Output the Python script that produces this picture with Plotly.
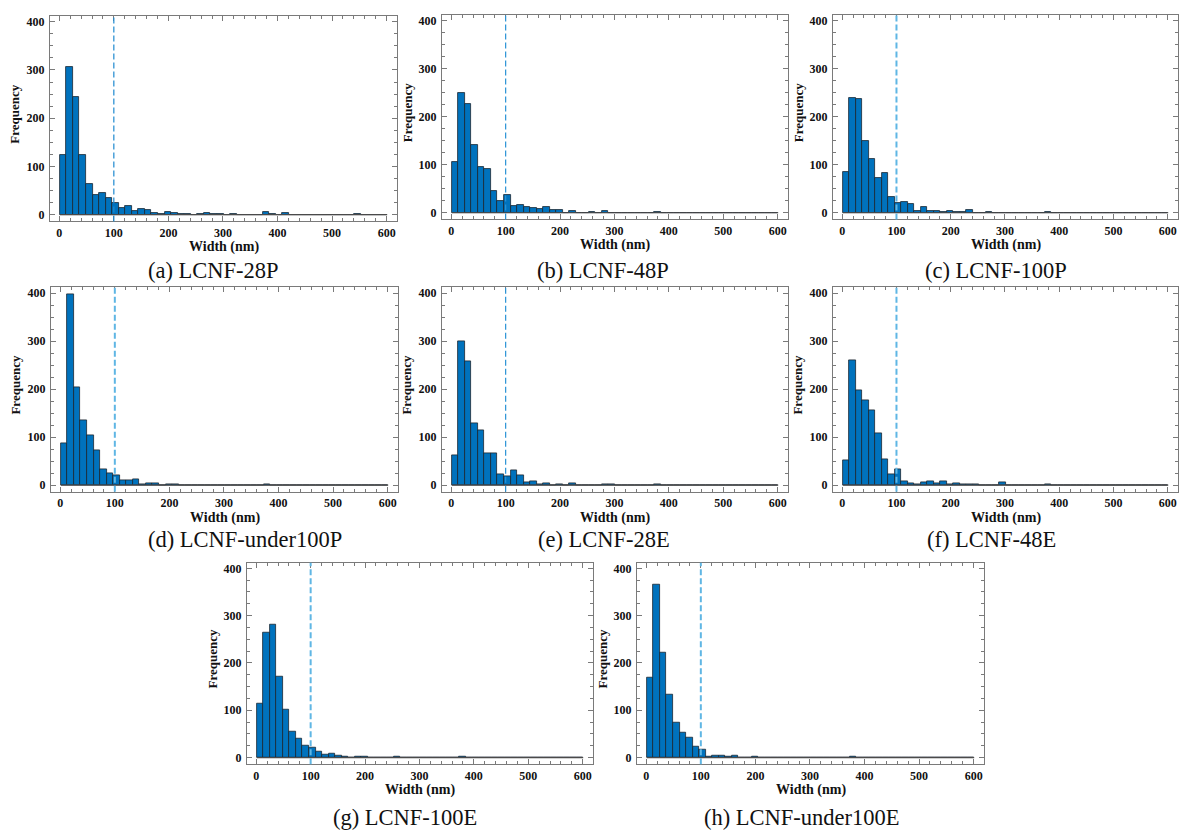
import plotly.graph_objects as go

# ---------------- data ----------------
bin_start = 1
bin_size = 12
n_bins = 50
bin_centers = [bin_start + bin_size / 2 + bin_size * k for k in range(n_bins)]

def pad(vals):
    return vals + [0] * (n_bins - len(vals))

counts_28P = pad([124, 306, 244, 124, 64, 41, 46, 35, 24, 13, 18, 8, 12, 9, 4, 1, 6, 3, 2, 2,
                  0, 1, 4, 2, 1, 0, 1, 0, 0, 0, 0, 6, 1, 0, 3, 0, 0, 0, 0, 0,
                  0, 0, 0, 0, 0, 1])
counts_48P = pad([105, 249, 227, 141, 96, 91, 46, 24, 37, 15, 17, 12, 11, 7, 13, 5, 6, 0, 4, 0,
                  0, 2, 0, 3, 0, 0, 0, 0, 0, 0, 0, 2])
counts_100P = pad([85, 240, 236, 150, 113, 73, 82, 32, 20, 23, 19, 4, 13, 4, 3, 1, 4, 2, 1, 6,
                   0, 0, 1, 0, 0, 0, 0, 0, 0, 0, 0, 2])
counts_u100P = pad([88, 397, 203, 136, 104, 73, 32, 25, 20, 10, 9, 13, 1, 3, 4, 0, 1, 1, 0, 0,
                    0, 0, 0, 0, 0, 0, 0, 0, 0, 0, 0, 1])
counts_28E = pad([62, 299, 258, 129, 114, 67, 66, 22, 19, 30, 21, 6, 8, 2, 3, 0, 2, 0, 3, 0,
                  0, 0, 0, 2, 2, 0, 0, 0, 0, 0, 0, 1])
counts_48E = pad([52, 260, 198, 176, 156, 108, 54, 22, 32, 8, 3, 2, 5, 8, 3, 8, 2, 4, 1, 2,
                  2, 0, 0, 0, 5, 0, 0, 0, 0, 0, 0, 1])
counts_100E = pad([114, 264, 280, 170, 102, 54, 39, 25, 21, 13, 6, 8, 4, 2, 0, 2, 1, 0, 0, 0,
                   0, 1, 0, 0, 0, 0, 0, 0, 0, 0, 0, 1])
counts_u100E = pad([169, 365, 222, 133, 73, 52, 42, 23, 17, 2, 3, 3, 1, 3, 0, 0, 1, 0, 0, 0,
                    0, 0, 0, 0, 0, 0, 0, 0, 0, 0, 0, 1])

captions = ["(a) LCNF-28P", "(b) LCNF-48P", "(c) LCNF-100P", "(d) LCNF-under100P",
            "(e) LCNF-28E", "(f) LCNF-48E", "(g) LCNF-100E", "(h) LCNF-under100E"]
series = [counts_28P, counts_48P, counts_100P, counts_u100P,
          counts_28E, counts_48E, counts_100E, counts_u100E]
threshold = 100
x_ticks = [0, 100, 200, 300, 400, 500, 600]
y_ticks = [0, 100, 200, 300, 400]

# ---------------- layout (pixels) ----------------
W, H = 1181, 832
# (left, right, top, bottom) of each plot frame
frames = [(50, 397, 15, 221), (442, 788, 14, 219), (833, 1178, 14, 219),
          (51, 398, 287, 492), (442, 788, 287, 492), (833, 1178, 287, 492),
          (247, 593, 563, 765), (637, 984, 563, 765)]
caption_pos = [(146, 270), (535, 270), (923, 270),
               (146, 540), (536, 540), (925, 540),
               (331, 818), (702, 818)]
dash_colors = ["#1f8ad0", "#2a93d6", "#5fb6e4", "#5fb6e4", "#2a93d6", "#5fb6e4", "#5fb6e4", "#5fb6e4"]
dash_widths = [1.2, 1.2, 2, 2, 1.2, 2, 2, 2]

BAR = "#0072BD"
FRAME = "#7a7a7a"
SERIF = "Liberation Serif"

fig = go.Figure()
layout = dict(width=W, height=H, margin=dict(l=0, r=0, t=0, b=0),
              paper_bgcolor="white", plot_bgcolor="white", showlegend=False,
              shapes=[], annotations=[], bargap=0)

for i, (vals, cap) in enumerate(zip(series, captions)):
    n = "" if i == 0 else str(i + 1)
    xa, ya = "x" + n, "y" + n
    fig.add_trace(go.Bar(x=bin_centers, y=vals, width=bin_size, xaxis=xa, yaxis=ya,
                         marker=dict(color=BAR, line=dict(color="#1b2630", width=0.8)),
                         hoverinfo="x+y"))
    L, R, T, B = frames[i]
    common = dict(showline=True, linecolor=FRAME, linewidth=1.3, mirror="allticks",
                  ticks="inside", ticklen=5, tickwidth=1, tickcolor=FRAME,
                  showgrid=False, zeroline=False,
                  tickfont=dict(family=SERIF, size=12, color="#111", weight="bold"))
    layout["xaxis" + n] = dict(common, domain=[L / W, R / W], range=[-17, 619],
                               anchor=ya, tickvals=x_ticks,
                               minor=dict(dtick=20, ticks="inside", ticklen=3,
                                          tickcolor=FRAME, showgrid=False))
    layout["yaxis" + n] = dict(common, domain=[1 - B / H, 1 - T / H], range=[-14, 412],
                               anchor=xa, tickvals=y_ticks, ticklabelstandoff=2,
                               minor=dict(dtick=25, ticks="inside", ticklen=3,
                                          tickcolor=FRAME, showgrid=False))
    # zero baseline across the histogram range
    layout["shapes"].append(dict(type="line", xref=xa, yref=ya, x0=bin_start,
                                 x1=bin_start + bin_size * n_bins, y0=0, y1=0,
                                 line=dict(color="#4a4a4a", width=1.2)))
    # threshold line
    layout["shapes"].append(dict(type="line", xref=xa, yref=ya + " domain",
                                 x0=threshold, x1=threshold, y0=0, y1=1,
                                 line=dict(color=dash_colors[i], width=dash_widths[i],
                                           dash="6px,3px")))
    # axis titles
    layout["annotations"].append(dict(text="<b>Width (nm)</b>", xref="paper", yref="paper",
                                      x=(L + R) / 2 / W, y=1 - (B + 26) / H,
                                      xanchor="center", yanchor="middle", showarrow=False,
                                      font=dict(family=SERIF, size=14, color="#111")))
    layout["annotations"].append(dict(text="<b>Frequency</b>", xref="paper", yref="paper",
                                      x=(L - 35) / W, y=1 - ((T + B) / 2 - 4) / H,
                                      xanchor="center", yanchor="middle", showarrow=False,
                                      textangle=-90,
                                      font=dict(family=SERIF, size=13, color="#111")))
    cx, cy = caption_pos[i]
    layout["annotations"].append(dict(text=cap, xref="paper", yref="paper",
                                      x=cx / W, y=1 - cy / H, xanchor="left", yanchor="middle",
                                      showarrow=False,
                                      font=dict(family=SERIF, size=22.5, color="#111")))

fig.update_layout(**layout)
fig.write_html("out.html", config={"displayModeBar": False},
               post_script="document.body.style.margin='0';document.body.style.padding='0';")
